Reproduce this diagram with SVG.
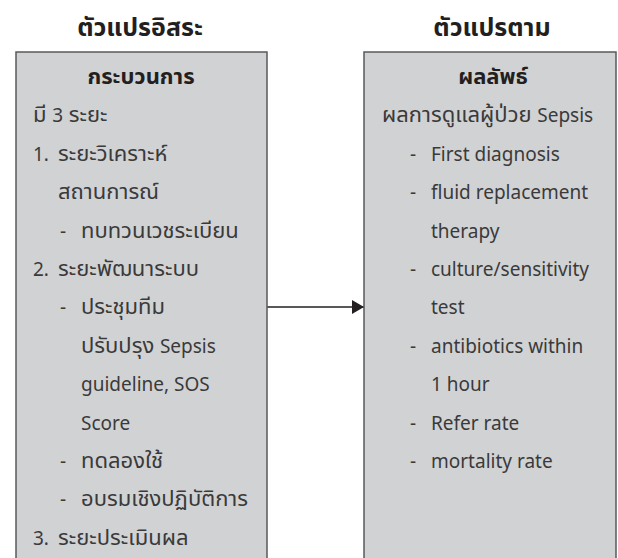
<svg xmlns="http://www.w3.org/2000/svg" width="618" height="558" viewBox="0 0 618 558">
<style>
.box{fill:#d1d2d4;stroke:#58595b;stroke-width:1.5}
.t{font-family:"Noto Sans Thai","Noto Sans","Open Sans",sans-serif;font-size:22px;fill:#3a3a3a}
.e{font-family:"Noto Sans","Open Sans",sans-serif;font-size:19px;fill:#3a3a3a}
.h{font-family:"Noto Sans Thai","Noto Sans","Open Sans",sans-serif;font-size:25px;font-weight:bold;fill:#231f20;text-anchor:middle}
.b{font-family:"Noto Sans Thai","Noto Sans","Open Sans",sans-serif;font-size:22px;font-weight:bold;fill:#231f20;text-anchor:middle}
</style>
<defs>
<marker id="ah" viewBox="0 0 12 14" refX="12" refY="7" markerWidth="12" markerHeight="14" markerUnits="userSpaceOnUse" orient="auto">
<path d="M0,0 L12,7 L0,14 Z" fill="#231f20"/>
</marker>
</defs>
<rect width="618" height="558" fill="#ffffff"/>
<text class="h" x="140" y="36">ตัวแปรอิสระ</text>
<text class="h" x="492" y="36">ตัวแปรตาม</text>
<g id="connectors">
<line x1="267" y1="307" x2="364" y2="307" stroke="#231f20" stroke-width="1.5" marker-end="url(#ah)"/>
</g>
<g id="independent">
<rect class="box" x="16" y="52" width="251" height="520"/>
<text class="b" x="141" y="84">กระบวนการ</text>
<text class="t" x="33" y="122">มี <tspan class="e">3</tspan> ระยะ</text>
<text class="e" x="33" y="161">1.</text><text class="t" x="58" y="161">ระยะวิเคราะห์</text>
<text class="t" x="58" y="199">สถานการณ์</text>
<text class="e" x="60" y="238">-</text><text class="t" x="81" y="238">ทบทวนเวชระเบียน</text>
<text class="e" x="33" y="276">2.</text><text class="t" x="58" y="276">ระยะพัฒนาระบบ</text>
<text class="e" x="60" y="314">-</text><text class="t" x="81" y="314">ประชุมทีม</text>
<text class="t" x="81" y="353">ปรับปรุง <tspan class="e">Sepsis</tspan></text>
<text class="e" x="81" y="391">guideline, SOS</text>
<text class="e" x="81" y="430">Score</text>
<text class="e" x="60" y="468">-</text><text class="t" x="81" y="468">ทดลองใช้</text>
<text class="e" x="60" y="506">-</text><text class="t" x="81" y="506">อบรมเชิงปฏิบัติการ</text>
<text class="e" x="33" y="545">3.</text><text class="t" x="58" y="545">ระยะประเมินผล</text>
</g>
<g id="dependent">
<rect class="box" x="364" y="52" width="252" height="520"/>
<text class="b" x="493" y="84">ผลลัพธ์</text>
<text class="t" x="382" y="122">ผลการดูแลผู้ป่วย <tspan class="e">Sepsis</tspan></text>
<text class="e" x="410" y="161">-</text><text class="e" x="431" y="161">First diagnosis</text>
<text class="e" x="410" y="199">-</text><text class="e" x="431" y="199">fluid replacement</text>
<text class="e" x="431" y="238">therapy</text>
<text class="e" x="410" y="276">-</text><text class="e" x="431" y="276">culture/sensitivity</text>
<text class="e" x="431" y="314">test</text>
<text class="e" x="410" y="353">-</text><text class="e" x="431" y="353">antibiotics within</text>
<text class="e" x="431" y="391">1 hour</text>
<text class="e" x="410" y="430">-</text><text class="e" x="431" y="430">Refer rate</text>
<text class="e" x="410" y="468">-</text><text class="e" x="431" y="468">mortality rate</text>
</g>
</svg>
